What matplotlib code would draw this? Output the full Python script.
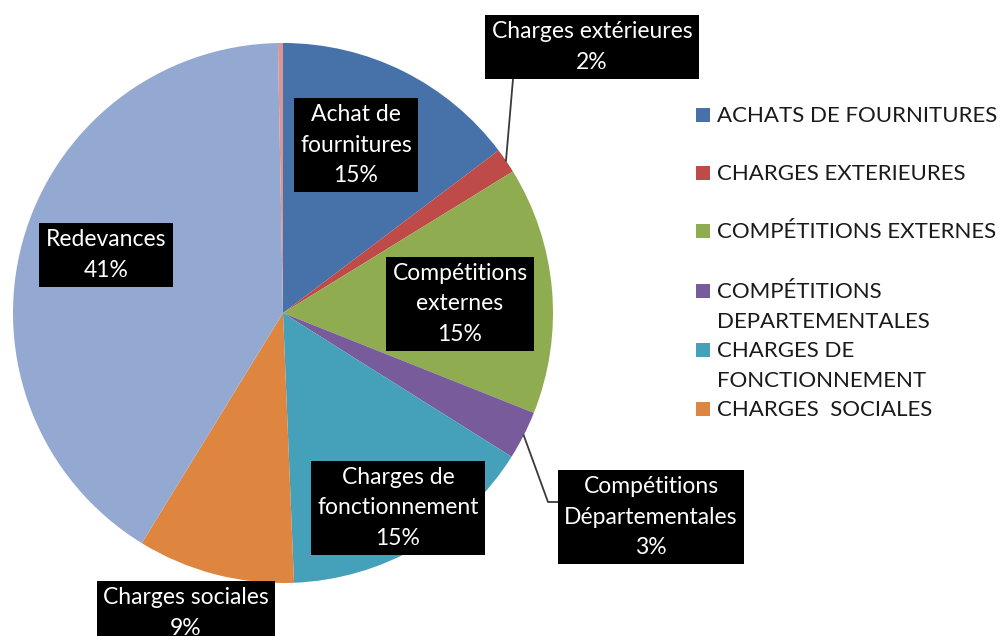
import matplotlib
matplotlib.use('Agg')
import matplotlib.pyplot as plt
import numpy as np
from matplotlib.patches import Rectangle

# ---------------- data ----------------
categories = ["Achats de fournitures", "Charges extérieures", "Compétitions externes",
              "Compétitions départementales", "Charges de fonctionnement",
              "Charges sociales", "Redevances", "Autres"]
values = [14.7, 1.5, 14.8, 2.9, 15.4, 9.4, 40.9, 0.3]
pie_labels = ["Achat de\nfournitures", "Charges extérieures", "Compétitions\nexternes",
              "Compétitions\nDépartementales", "Charges de\nfonctionnement",
              "Charges sociales", "Redevances", None]
legend_labels = ["ACHATS DE FOURNITURES", "CHARGES EXTERIEURES", "COMPÉTITIONS EXTERNES",
                 "COMPÉTITIONS\nDEPARTEMENTALES", "CHARGES DE\nFONCTIONNEMENT",
                 "CHARGES  SOCIALES"]

# ---------------- style ----------------
colors = ['#4672a9', '#be4b48', '#8fac51', '#775b9b', '#45a0b9',
          '#de8640', '#94a9d1', '#d99694']
FONT = 'Lato'
W, H = 1003, 636
cx, cy, R = 283, 313, 270
# label box centres (pixels) and leader-line paths
label_pos = [(356, 145), (592, 47), (460, 304), (651, 517), (398, 508), (186, 613), (106, 255), None]
leader_path = {1: [(513, 79)], 3: [(548, 502), (560, 502)]}

fig = plt.figure(figsize=(W / 100, H / 100), dpi=100)
ax = fig.add_axes([(cx - R) / W, (H - cy - R) / H, 2 * R / W, 2 * R / H])
wedges, _ = ax.pie(values, colors=colors, startangle=90, counterclock=False,
                   radius=1, wedgeprops=dict(linewidth=0))
ax.set_xlim(-1, 1)
ax.set_ylim(-1, 1)
ax.set_aspect('auto')
ax.axis('off')

# overlay in pixel coordinates
ov = fig.add_axes([0, 0, 1, 1], zorder=5)
ov.set_xlim(0, W)
ov.set_ylim(H, 0)
ov.axis('off')
ov.patch.set_alpha(0)

total = sum(values)
for i, (w, lab) in enumerate(zip(wedges, pie_labels)):
    if lab is None:
        continue
    pct = f"{values[i] / total * 100:.0f}%"
    if i in leader_path:
        th = np.deg2rad((w.theta1 + w.theta2) / 2)
        xs = [cx + R * np.cos(th)] + [p[0] for p in leader_path[i]]
        ys = [cy - R * np.sin(th)] + [p[1] for p in leader_path[i]]
        ov.plot(xs, ys, color='#3a3a3a', lw=1.3, zorder=1)
    px, py = label_pos[i]
    ov.text(px, py, lab + "\n" + pct, ha='center', va='center', color='white',
            fontsize=16.5, family=FONT, linespacing=1.55, zorder=3,
            bbox=dict(boxstyle='square,pad=0.28', fc='black', ec='none'))

# legend
leg_y = [115, 173, 231, 291, 350, 409]
for i, (lab, y) in enumerate(zip(legend_labels, leg_y)):
    ov.add_patch(Rectangle((696, y - 7), 14, 14, facecolor=colors[i], edgecolor='none'))
    ov.text(717, y - 9, lab, ha='left', va='top', color='#1a1a1a', fontsize=16,
            family=FONT, linespacing=1.65)

fig.savefig('out.png', dpi=100)
